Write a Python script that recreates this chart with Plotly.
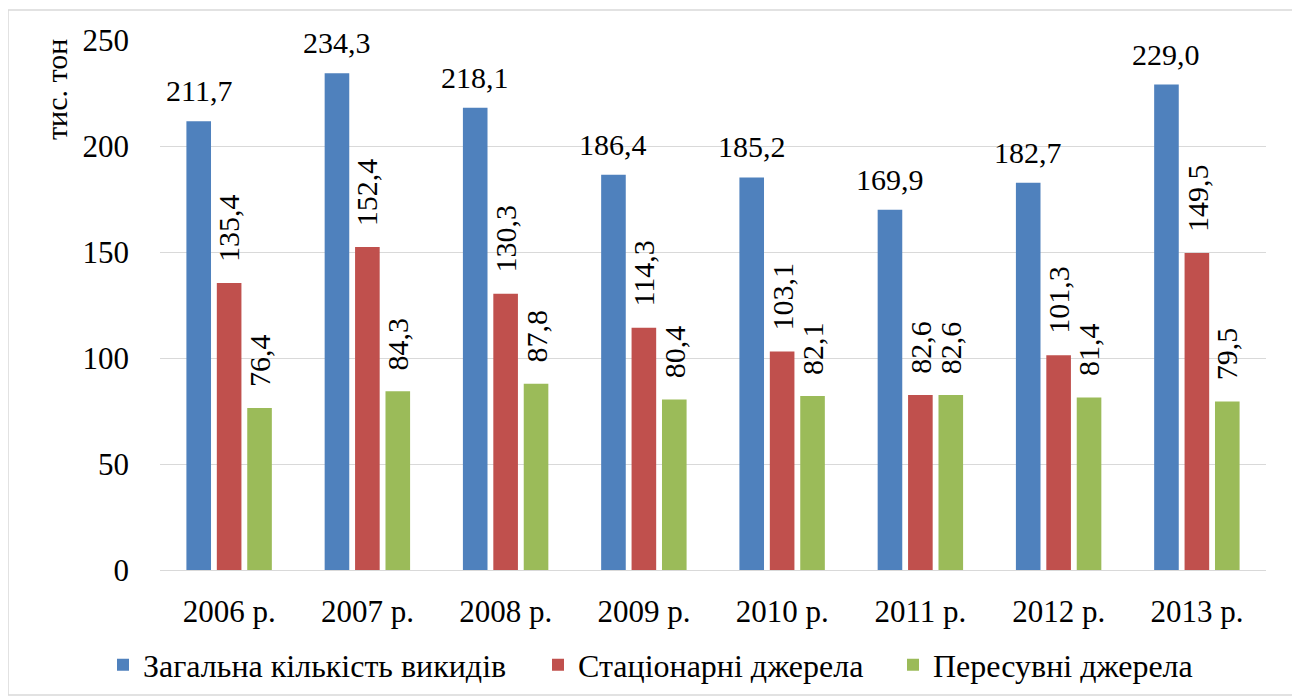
import plotly.graph_objects as go

categories = ["2006 р.", "2007 р.", "2008 р.", "2009 р.", "2010 р.", "2011 р.", "2012 р.", "2013 р."]
total = [211.7, 234.3, 218.1, 186.4, 185.2, 169.9, 182.7, 229.0]
stationary = [135.4, 152.4, 130.3, 114.3, 103.1, 82.6, 101.3, 149.5]
mobile = [76.4, 84.3, 87.8, 80.4, 82.1, 82.6, 81.4, 79.5]
names = ["Загальна кількість викидів", "Стаціонарні джерела", "Пересувні джерела"]
colors = ["#4F81BD", "#C0504D", "#9BBB59"]

FONT = "Liberation Serif"

def fmt(v):
    return f"{v:.1f}".replace(".", ",")

# page has an 8px body margin; plot area target: x 160..1266, y 40..570
OFF = 8
L, R, T, B = 160 - OFF, 1300 - 1266 + OFF, 40 - OFF, 699 - 570 + OFF
PW, PH = 1266 - 160, 570 - 40

BAR_W = 0.178          # bar width in category units
CENTERS = [-0.22, 0.0, 0.22]   # bar centre offsets within a category
ANGLES = [0, -90, -90]
SHIFTS = [12, 19, 19]
LEGENDS = ["legend", "legend2", "legend3"]

fig = go.Figure()
annotations = []
series = [total, stationary, mobile]
for k, (vals, name, col) in enumerate(zip(series, names, colors)):
    fig.add_trace(go.Bar(
        x=categories, y=vals, name=name,
        width=BAR_W, offset=CENTERS[k] - BAR_W / 2,
        marker=dict(color=col, line=dict(width=0)),
        legend=LEGENDS[k],
    ))
    for i, v in enumerate(vals):
        annotations.append(dict(
            x=i + CENTERS[k], y=v, xref="x", yref="y", text=fmt(v),
            showarrow=False, textangle=ANGLES[k],
            xanchor="center", yanchor="bottom", yshift=SHIFTS[k],
            font=dict(family=FONT, size=30, color="#000000")))

annotations.append(dict(text="тис. тон", xref="paper", yref="paper",
                        x=(57 - 160) / PW, y=(570 - 89) / PH,
                        xanchor="center", yanchor="middle", textangle=-90,
                        showarrow=False, font=dict(family=FONT, size=30, color="#000000")))

leg_common = dict(orientation="h", xref="paper", yref="paper", xanchor="left",
                  yanchor="middle", y=(570 - 665) / PH, itemwidth=30,
                  font=dict(family=FONT, size=32, color="#000000"),
                  bgcolor="rgba(0,0,0,0)")
text_starts = [143, 578, 933]

fig.update_layout(
    width=1300, height=699,
    margin=dict(l=L, r=R, t=T, b=B),
    paper_bgcolor="white", plot_bgcolor="white",
    barmode="overlay",
    font=dict(family=FONT, size=31, color="#000000"),
    showlegend=True,
    legend=dict(leg_common, x=(text_starts[0] - 40 - 160) / PW),
    legend2=dict(leg_common, x=(text_starts[1] - 40 - 160) / PW),
    legend3=dict(leg_common, x=(text_starts[2] - 40 - 160) / PW),
    xaxis=dict(showgrid=False, showline=False, ticks="", ticklabelstandoff=20,
               tickfont=dict(family=FONT, size=31)),
    yaxis=dict(range=[0, 250], tickvals=[0, 50, 100, 150, 200, 250],
               showgrid=True, gridcolor="#D9D9D9", gridwidth=1,
               zeroline=True, zerolinecolor="#D9D9D9", zerolinewidth=1,
               showline=False, ticks="", ticklabelstandoff=30,
               tickfont=dict(family=FONT, size=31)),
    annotations=annotations,
    shapes=[dict(type="rect", xref="paper", yref="paper",
                 x0=(8 - 160) / PW, x1=(1295 - 160) / PW,
                 y0=(570 - 695) / PH, y1=(570 - 10) / PH,
                 line=dict(color="#D9D9D9", width=1.5), fillcolor="rgba(0,0,0,0)",
                 layer="below")],
)

fig.write_html("out.html")
